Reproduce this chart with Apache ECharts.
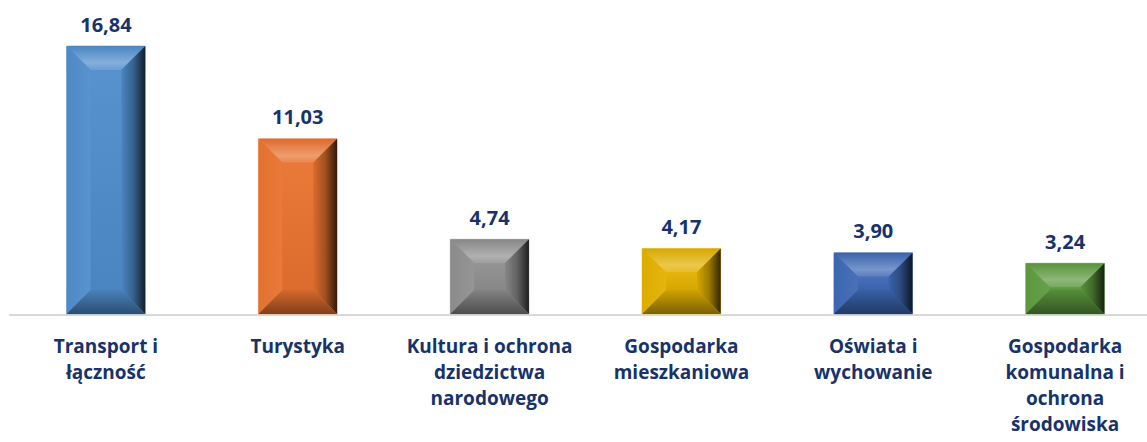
<!DOCTYPE html>
<html><head><meta charset="utf-8">
<script src="https://cdn.jsdelivr.net/npm/echarts@6/dist/echarts.min.js"></script>
<style>html,body{margin:0;padding:0;background:#fff}#c{width:1147px;height:442px}</style>
</head><body><div id="c"></div>
<script>
var categories = ["Transport i\nłączność", "Turystyka", "Kultura i ochrona\ndziedzictwa\nnarodowego", "Gospodarka\nmieszkaniowa", "Oświata i\nwychowanie", "Gospodarka\nkomunalna i\nochrona\nśrodowiska"];
var values = [16.84, 11.03, 4.74, 4.17, 3.90, 3.24];
var labels = ["16,84", "11,03", "4,74", "4,17", "3,90", "3,24"];
var colors = ["#4F8CCB", "#E8722F", "#8E8E8E", "#E2B000", "#3D68B4", "#5E9A3F"];

function mix(hex, target, t) {
  var r = parseInt(hex.substr(1,2),16), g = parseInt(hex.substr(3,2),16), b = parseInt(hex.substr(5,2),16);
  r = Math.round(r + (target - r) * t); g = Math.round(g + (target - g) * t); b = Math.round(b + (target - b) * t);
  return 'rgb(' + r + ',' + g + ',' + b + ')';
}
function lin(x, y, x2, y2, stops) {
  return {type: 'linear', x: x, y: y, x2: x2, y2: y2, colorStops: stops.map(function (s) { return {offset: s[0], color: s[1]}; })};
}

var chart = echarts.init(document.getElementById('c'), null, {renderer: 'svg'});
chart.setOption({
  animation: false,
  grid: {left: 10, width: 1151, top: 27.5, bottom: 127, containLabel: false, outerBoundsMode: 'none'},
  xAxis: {
    type: 'category', data: categories,
    axisLine: {lineStyle: {color: '#D9D9D9', width: 2}},
    axisTick: {show: false},
    axisLabel: {interval: 0, color: '#17336A', fontWeight: 'bold', fontSize: 19, lineHeight: 26, margin: 18, fontFamily: 'Open Sans'}
  },
  yAxis: {type: 'value', min: 0, max: 18, show: false, splitLine: {show: false}},
  series: [{
    type: 'custom',
    data: values,
    renderItem: function (params, api) {
      var i = params.dataIndex;
      var top = api.coord([i, api.value(1)]);
      var bot = api.coord([i, 0]);
      var bw = api.size([1, 0])[0] * 0.41;
      var x0 = top[0] - bw / 2, x1 = top[0] + bw / 2, y0 = top[1], y1 = bot[1] - 1;
      var h = y1 - y0;
      var b = Math.min(24, h / 2);
      var c = colors[i];
      var ix0 = x0 + b, ix1 = x1 - b, iy0 = y0 + b, iy1 = y1 - b;
      return {
        type: 'group',
        children: [
          {type: 'rect', shape: {x: x0, y: y0, width: bw, height: h}, style: {fill: c, stroke: mix(c, 255, 0.45), lineWidth: 1}},
          {type: 'polygon', shape: {points: [[x0, y0], [x1, y0], [ix1, iy0], [ix0, iy0]]},
            style: {fill: lin(0, 0, 0, 1, [[0, mix(c, 0, 0.05)], [0.7, mix(c, 255, 0.3)], [1, mix(c, 255, 0.15)]])}},
          {type: 'polygon', shape: {points: [[x0, y0], [ix0, iy0], [ix0, iy1], [x0, y1]]},
            style: {fill: lin(0, 0, 1, 0, [[0, mix(c, 0, 0.02)], [1, mix(c, 255, 0.06)]])}},
          {type: 'polygon', shape: {points: [[x1, y0], [x1, y1], [ix1, iy1], [ix1, iy0]]},
            style: {fill: lin(0, 0, 1, 0, [[0, mix(c, 0, 0.05)], [0.5, mix(c, 0, 0.3)], [1, mix(c, 0, 0.78)]])}},
          {type: 'polygon', shape: {points: [[x0, y1], [ix0, iy1], [ix1, iy1], [x1, y1]]},
            style: {fill: lin(0, 0, 0, 1, [[0, mix(c, 0, 0.08)], [1, mix(c, 0, 0.45)]])}},
          {type: 'rect', shape: {x: ix0, y: iy0, width: ix1 - ix0, height: Math.max(0, iy1 - iy0)},
            style: {fill: lin(0, 0, 0, 1, [[0, mix(c, 255, 0.05)], [1, mix(c, 0, 0.05)]])}},
          {type: 'text', x: top[0], y: y0 - 12,
            style: {text: labels[i], fill: '#17336A', font: 'bold 20px "Open Sans"', align: 'center', verticalAlign: 'bottom'}}
        ]
      };
    }
  }]
});
</script></body></html>
